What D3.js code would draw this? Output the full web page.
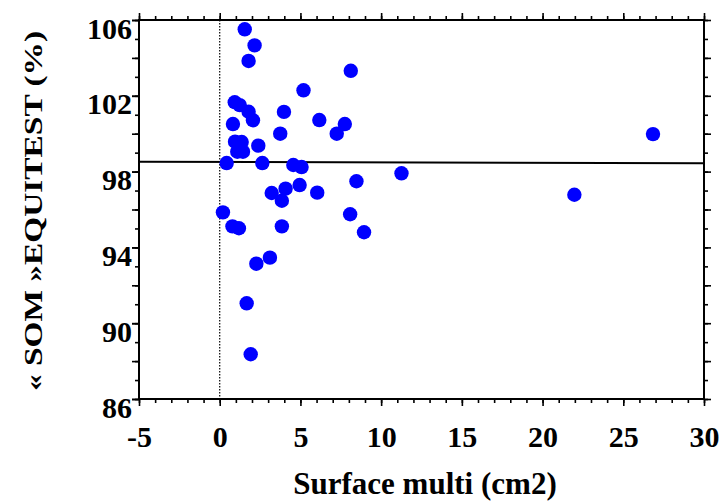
<!DOCTYPE html>
<html>
<head>
<meta charset="utf-8">
<script src="https://cdn.jsdelivr.net/npm/d3@7"></script>
<style>
  body { margin: 0; background: #fff; }
  text { font-family: "Liberation Serif", "Times New Roman", serif; font-weight: bold; fill: #000; }
</style>
</head>
<body>
<div id="chart"></div>
<script>
// chart size and margins (plot frame goes from x 139..704, y 20..399)
const width = 728;
const height = 501;
const margin = {left: 139, right: 24, top: 20, bottom: 102};

// tick labels
const xLabels = [-5, 0, 5, 10, 15, 20, 25, 30];
const yLabels = [86, 90, 94, 98, 102, 106];

// scatter data: surface multi (cm2) vs SOM EQUITEST (%)
const surface = [1.55, 2.16, 1.79, 8.12, 5.19, 0.93, 1.24, 1.79, 3.98, 2.06,
                 0.82, 6.17, 7.75, 7.25, 3.75, 0.95, 1.36, 2.39, 1.09, 1.44,
                 0.43, 2.64, 4.56, 5.07, 8.47, 4.08, 4.95, 3.22, 3.85, 6.04,
                 0.20, 8.08, 0.79, 1.19, 3.85, 8.94, 3.11, 2.27, 1.67, 1.92,
                 11.26, 21.97, 26.84];
const som = [105.51, 104.66, 103.84, 103.32, 102.29, 101.66, 101.51, 101.16, 101.15, 100.71,
             100.51, 100.72, 100.51, 100.0, 100.0, 99.58, 99.56, 99.37, 99.05, 99.05,
             98.45, 98.45, 98.35, 98.24, 97.49, 97.10, 97.29, 96.87, 96.46, 96.89,
             95.85, 95.75, 95.11, 95.01, 95.11, 94.80, 93.46, 93.14, 91.05, 88.36,
             97.91, 96.78, 99.98];

// regression line end points
const fitX = [-5, 30];
const fitY = [98.52, 98.44];

const points = surface.map((s, i) => ({x: s, y: som[i]}));

const svg = d3.select("#chart")
  .append("svg")
  .attr("width", width)
  .attr("height", height)
  .attr("viewBox", [0, 0, width, height]);

const xScale = d3.scaleLinear()
  .domain([-5, 30])
  .range([margin.left, width - margin.right]);

const yScale = d3.scaleLinear()
  .domain([86, 106])
  .range([height - margin.bottom, margin.top]);

const fmt = d => String(d);

// minor ticks (every unit) on all four sides
function minor(axis, ticks) {
  return axis.tickValues(ticks).tickSize(4).tickSizeOuter(0).tickFormat("");
}
const xMinor = d3.range(-5, 31, 1);
const yMinor = d3.range(86, 107, 1);
const xMajor = d3.range(-5, 31, 5);
const yMajor = d3.range(86, 107, 2);

const bottom = height - margin.bottom;
const right = width - margin.right;

svg.append("g").attr("transform", `translate(0,${bottom})`).call(minor(d3.axisBottom(xScale), xMinor));
svg.append("g").attr("transform", `translate(0,${margin.top})`).call(minor(d3.axisTop(xScale), xMinor));
svg.append("g").attr("transform", `translate(${margin.left},0)`).call(minor(d3.axisLeft(yScale), yMinor));
svg.append("g").attr("transform", `translate(${right},0)`).call(minor(d3.axisRight(yScale), yMinor));

// major ticks
svg.append("g").attr("transform", `translate(0,${margin.top})`)
  .call(d3.axisTop(xScale).tickValues(xMajor).tickSize(7).tickSizeOuter(0).tickFormat(""));
svg.append("g").attr("transform", `translate(${right},0)`)
  .call(d3.axisRight(yScale).tickValues(yMajor).tickSize(7).tickSizeOuter(0).tickFormat(""));
svg.append("g").attr("transform", `translate(${margin.left},0)`)
  .call(d3.axisLeft(yScale).tickValues(yMajor).tickSize(7).tickSizeOuter(0).tickFormat(""));

// labelled axes
const xAxis = svg.append("g")
  .attr("transform", `translate(0,${bottom})`)
  .call(d3.axisBottom(xScale).tickValues(xLabels).tickSize(7).tickSizeOuter(0).tickPadding(20).tickFormat(fmt));
xAxis.selectAll("text").attr("font-size", 30);

const yAxis = svg.append("g")
  .attr("transform", `translate(${margin.left},0)`)
  .call(d3.axisLeft(yScale).tickValues(yLabels).tickSize(7).tickSizeOuter(0).tickPadding(0).tickFormat(fmt));
yAxis.selectAll("text").attr("font-size", 30).attr("dy", "0.6em");

svg.selectAll(".domain").remove();
svg.selectAll(".tick line").attr("stroke", "#000").attr("stroke-width", 1.6);

// frame
svg.append("rect")
  .attr("x", margin.left)
  .attr("y", margin.top)
  .attr("width", right - margin.left)
  .attr("height", bottom - margin.top)
  .attr("fill", "none")
  .attr("stroke", "#000")
  .attr("stroke-width", 2);

// dotted line at x = 0
svg.append("line")
  .attr("x1", xScale(0)).attr("x2", xScale(0))
  .attr("y1", margin.top).attr("y2", bottom)
  .attr("stroke", "#000")
  .attr("stroke-width", 1.2)
  .attr("stroke-dasharray", "1.5,1.5");

// regression line
const line = d3.line().x(d => xScale(d[0])).y(d => yScale(d[1]));
svg.append("path")
  .datum(fitX.map((v, i) => [v, fitY[i]]))
  .attr("d", line)
  .attr("fill", "none")
  .attr("stroke", "#000")
  .attr("stroke-width", 2);

// dots
svg.selectAll(".dot")
  .data(points)
  .enter()
  .append("circle")
    .attr("class", "dot")
    .attr("cx", d => xScale(d.x))
    .attr("cy", d => yScale(d.y))
    .attr("r", 7.2)
    .attr("fill", "#0000ff");

// axis titles
svg.append("text")
  .attr("x", 425)
  .attr("y", 494)
  .attr("text-anchor", "middle")
  .attr("font-size", 31)
  .text("Surface multi (cm2)");

svg.append("text")
  .attr("transform", "translate(42,211) rotate(-90) scale(1,0.75)")
  .attr("text-anchor", "middle")
  .attr("font-size", 33)
  .attr("textLength", 360)
  .attr("lengthAdjust", "spacingAndGlyphs")
  .text("« SOM »EQUITEST (%)");
</script>
</body>
</html>
